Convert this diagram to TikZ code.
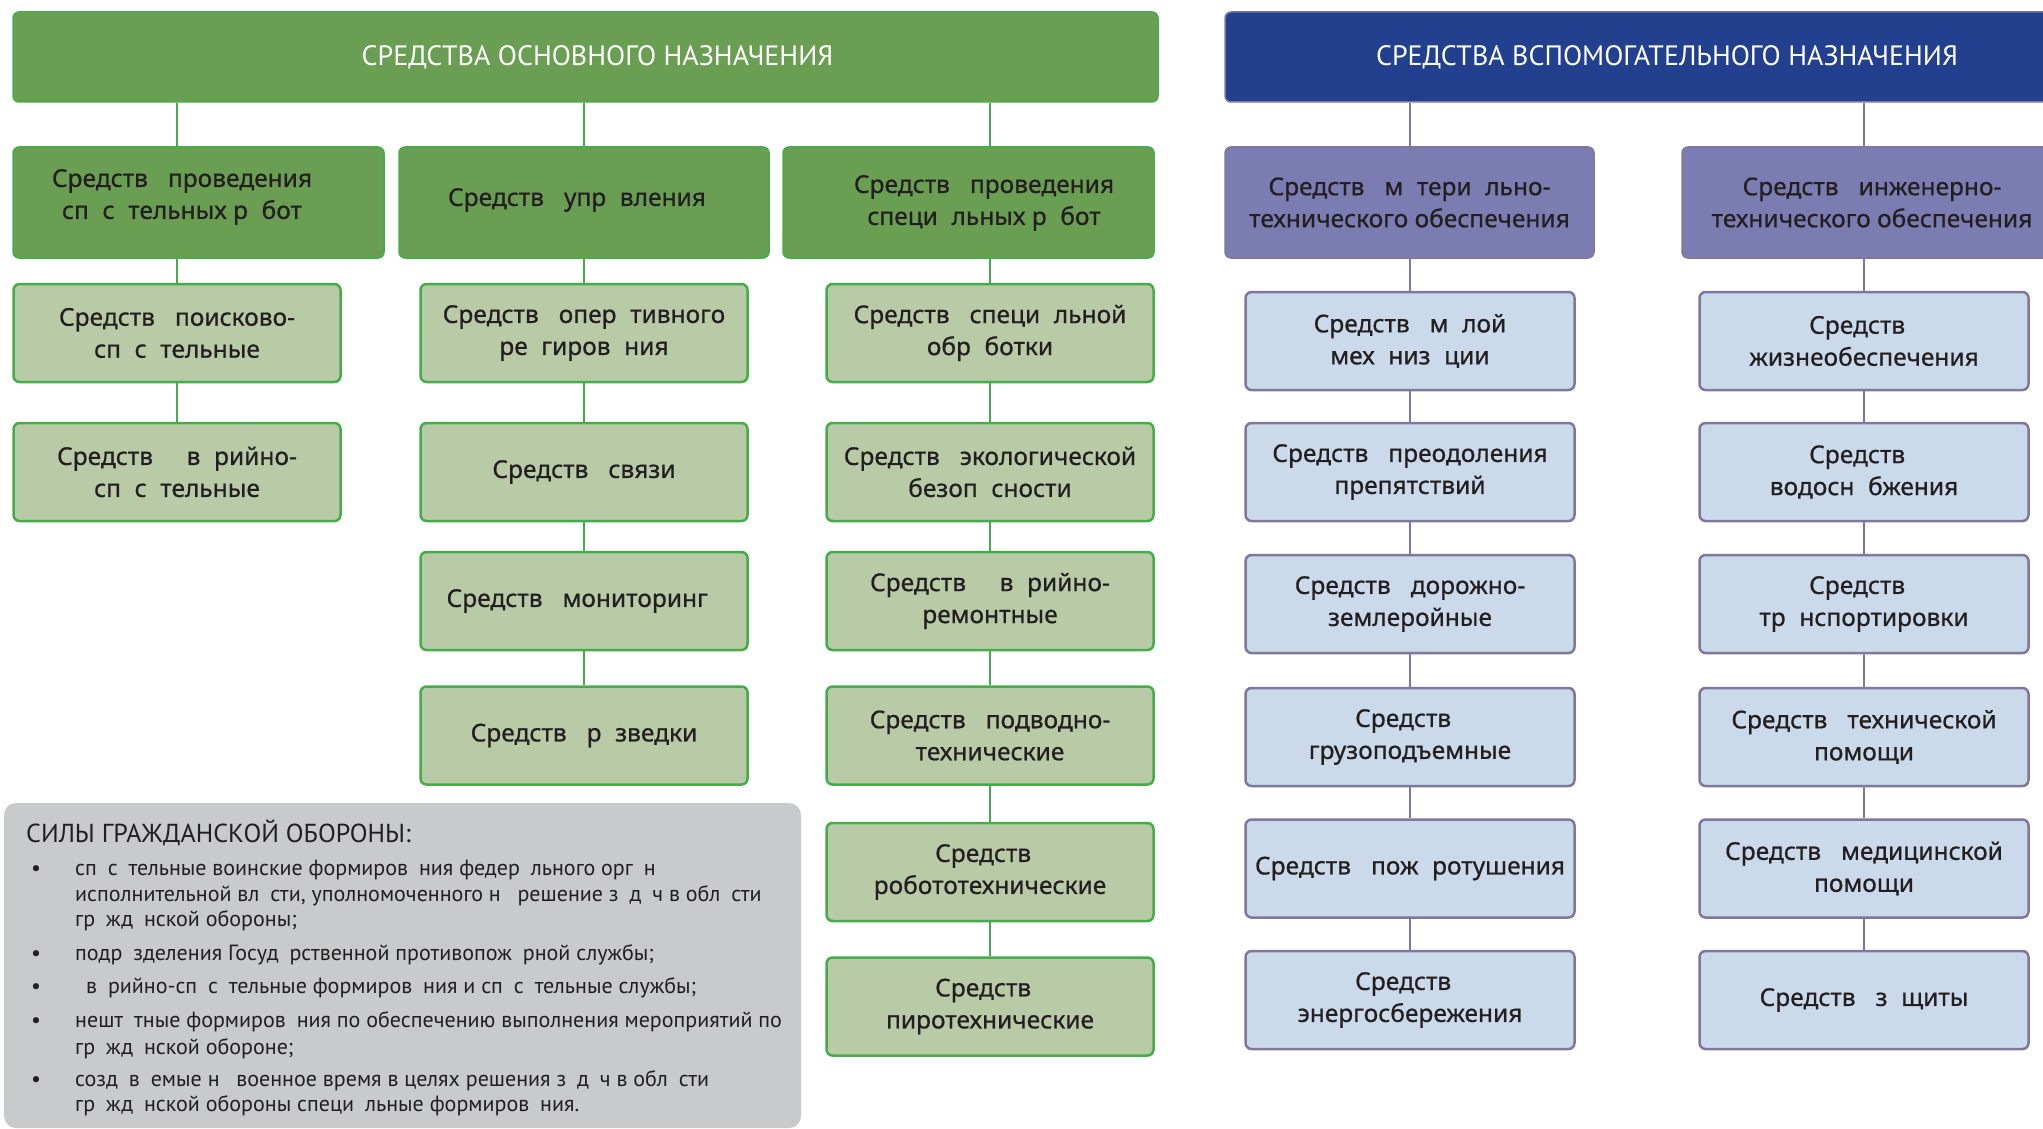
\documentclass[tikz,border=0pt]{standalone}
\usepackage{fontspec}
\setmainfont{Noto Sans}
\newfontfamily\boxfont[FakeBold=0.7]{Noto Sans}
\newfontfamily\ptsans{PT Sans}
\newcommand\gapa{\phantom{а}}
\definecolor{hdrgreen}{HTML}{6A9F53}
\definecolor{lightgreen}{HTML}{B9CAA7}
\definecolor{greenline}{HTML}{44AD4A}
\definecolor{hdrblue}{HTML}{23408E}
\definecolor{purplebox}{HTML}{7B7CB1}
\definecolor{lightblue}{HTML}{CADAEA}
\definecolor{purpline}{HTML}{7F779C}
\definecolor{grayfill}{HTML}{C9CACC}
\definecolor{txt}{HTML}{231F20}
\begin{document}
\begin{tikzpicture}[x=1pt,y=-1pt,
  base/.style={rounded corners=6pt, align=center, inner sep=0pt, text=txt,
    font=\boxfont\fontsize{24.5}{32}\selectfont},
  hdrG/.style={base, fill=hdrgreen, draw=greenline, line width=1.5pt, text=white,
    font=\ptsans\fontsize{28}{30}\selectfont, minimum height=90},
  lvG/.style={base, fill=hdrgreen, draw=greenline, line width=1.5pt, minimum height=111},
  lvtext/.style={align=center, inner sep=0pt, text=txt, font=\boxfont\fontsize{24.5}{32}\selectfont},
  colG/.style={base, fill=lightgreen, draw=greenline, line width=2.5pt, minimum width=327, minimum height=98},
  hdrB/.style={base, fill=hdrblue, draw=purpline, line width=1.5pt, text=white,
    font=\ptsans\fontsize{28}{30}\selectfont, minimum height=90},
  lvP/.style={base, fill=purplebox, draw=purpline, line width=1.5pt, minimum height=111},
  colB/.style={base, fill=lightblue, draw=purpline, line width=2.5pt, minimum width=329, minimum height=98},
  gline/.style={draw=greenline, line width=2.5pt},
  pline/.style={draw=purpline, line width=2.5pt},
  graytxt/.style={anchor=base west, inner sep=0pt, text=txt, font=\ptsans\fontsize{22}{26}\selectfont},
  graytitle/.style={anchor=base west, inner sep=0pt, text=txt, font=\ptsans\fontsize{26}{30}\selectfont},
]
\useasboundingbox (0,0) rectangle (2043,1129);
\clip (0,0) rectangle (2043,1129);

% ---------- green part ----------
\node[hdrG, minimum width=1145] (hg) at (585.5,57) {\hspace*{24pt}СРЕДСТВА ОСНОВНОГО НАЗНАЧЕНИЯ};
\node[lvG, minimum width=371] (g1) at (198.5,202.5) {};
\node[lvG, minimum width=370] (g2) at (584,202.5) {};
\node[lvG, minimum width=371] (g3) at (968.5,202.5) {};

\node[colG] (c1a) at (177,333) {Средств\gapa{} поисково-\\сп\gapa{}с\gapa{}тельные};
\node[colG] (c1b) at (177,472) {Средств\gapa{} \gapa{}в\gapa{}рийно-\\сп\gapa{}с\gapa{}тельные};

\node[colG] (c2a) at (584,333) {Средств\gapa{} опер\gapa{}тивного\\ре\gapa{}гиров\gapa{}ния};
\node[colG] (c2b) at (584,472) {Средств\gapa{} связи};
\node[colG] (c2c) at (584,601) {Средств\gapa{} мониторинг\gapa};
\node[colG] (c2d) at (584,735.5) {Средств\gapa{} р\gapa{}зведки};

\node[colG] (c3a) at (990,333) {Средств\gapa{} специ\gapa{}льной\\обр\gapa{}ботки};
\node[colG] (c3b) at (990,472) {Средств\gapa{} экологической\\безоп\gapa{}сности};
\node[colG] (c3c) at (990,601) {Средств\gapa{} \gapa{}в\gapa{}рийно-\\ремонтные};
\node[colG] (c3d) at (990,735.5) {Средств\gapa{} подводно-\\технические};
\node[colG] (c3e) at (990,872) {Средств\gapa\\робототехнические};
\node[colG] (c3f) at (990,1006.5) {Средств\gapa\\пиротехнические};

\node[lvtext] (g1t) at (182,197) {Средств\gapa{} проведения\\сп\gapa{}с\gapa{}тельных р\gapa{}бот};
\node[lvtext] (g2t) at (577,200) {Средств\gapa{} упр\gapa{}вления};
\node[lvtext] (g3t) at (984,203) {Средств\gapa{} проведения\\специ\gapa{}льных р\gapa{}бот};

\draw[gline] (hg.south -| c1a.center) -- (g1.north -| c1a.center);
\draw[gline] (hg.south -| c2a.center) -- (g2.north -| c2a.center);
\draw[gline] (hg.south -| c3a.center) -- (g3.north -| c3a.center);
\draw[gline] (g1.south -| c1a.center) -- (c1a.north);
\draw[gline] (g2.south -| c2a.center) -- (c2a.north);
\draw[gline] (g3.south -| c3a.center) -- (c3a.north);
\draw[gline] (c1a.south) -- (c1b.north);
\draw[gline] (c2a.south) -- (c2b.north);
\draw[gline] (c2b.south) -- (c2c.north);
\draw[gline] (c2c.south) -- (c2d.north);
\draw[gline] (c3a.south) -- (c3b.north);
\draw[gline] (c3b.south) -- (c3c.north);
\draw[gline] (c3c.south) -- (c3d.north);
\draw[gline] (c3d.south) -- (c3e.north);
\draw[gline] (c3e.south) -- (c3f.north);

% ---------- blue part ----------
\node[hdrB, minimum width=884] (hb) at (1667,57) {СРЕДСТВА ВСПОМОГАТЕЛЬНОГО НАЗНАЧЕНИЯ};
\node[lvP, minimum width=369] (p1) at (1409.5,202.5) {Средств\gapa{} м\gapa{}тери\gapa{}льно-\\технического обеспечения};
\node[lvP, minimum width=380] (p2) at (1872,202.5) {Средств\gapa{} инженерно-\\технического обеспечения};

\node[colB] (b1a) at (1410,341) {Средств\gapa{} м\gapa{}лой\\мех\gapa{}низ\gapa{}ции};
\node[colB] (b1b) at (1410,472) {Средств\gapa{} преодоления\\препятствий};
\node[colB] (b1c) at (1410,604) {Средств\gapa{} дорожно-\\землеройные};
\node[colB] (b1d) at (1410,737) {Средств\gapa\\грузоподъемные};
\node[colB] (b1e) at (1410,868.5) {Средств\gapa{} пож\gapa{}ротушения};
\node[colB] (b1f) at (1410,1000) {Средств\gapa\\энергосбережения};

\node[colB] (b2a) at (1864,341) {Средств\gapa\\жизнеобеспечения};
\node[colB] (b2b) at (1864,472) {Средств\gapa\\водосн\gapa{}бжения};
\node[colB] (b2c) at (1864,604) {Средств\gapa\\тр\gapa{}нспортировки};
\node[colB] (b2d) at (1864,737) {Средств\gapa{} технической\\помощи};
\node[colB] (b2e) at (1864,868.5) {Средств\gapa{} медицинской\\помощи};
\node[colB] (b2f) at (1864,1000) {Средств\gapa{} з\gapa{}щиты};

\draw[pline] (hb.south -| b1a.center) -- (p1.north -| b1a.center);
\draw[pline] (hb.south -| b2a.center) -- (p2.north -| b2a.center);
\draw[pline] (p1.south -| b1a.center) -- (b1a.north);
\draw[pline] (p2.south -| b2a.center) -- (b2a.north);
\draw[pline] (b1a.south) -- (b1b.north);
\draw[pline] (b1b.south) -- (b1c.north);
\draw[pline] (b1c.south) -- (b1d.north);
\draw[pline] (b1d.south) -- (b1e.north);
\draw[pline] (b1e.south) -- (b1f.north);
\draw[pline] (b2a.south) -- (b2b.north);
\draw[pline] (b2b.south) -- (b2c.north);
\draw[pline] (b2c.south) -- (b2d.north);
\draw[pline] (b2d.south) -- (b2e.north);
\draw[pline] (b2e.south) -- (b2f.north);

% ---------- gray box ----------
\node[fill=grayfill, rounded corners=12pt, minimum width=797, minimum height=325, inner sep=0pt] (gbox) at (402.5,965.5) {};
\node[graytitle] (gt) at (26,842) {СИЛЫ ГРАЖДАНСКОЙ ОБОРОНЫ:};
\node[graytxt] (bu1) at (31,875) {•};
\node[graytxt] (l1) at (75,875) {сп\gapa{}с\gapa{}тельные воинские формиров\gapa{}ния федер\gapa{}льного орг\gapa{}н\gapa};
\node[graytxt] (l2) at (75,901) {исполнительной вл\gapa{}сти, уполномоченного н\gapa{} решение з\gapa{}д\gapa{}ч в обл\gapa{}сти};
\node[graytxt] (l3) at (75,926) {гр\gapa{}жд\gapa{}нской обороны;};
\node[graytxt] (bu2) at (31,960) {•};
\node[graytxt] (l4) at (75,960) {подр\gapa{}зделения Госуд\gapa{}рственной противопож\gapa{}рной службы;};
\node[graytxt] (bu3) at (31,993) {•};
\node[graytxt] (l5) at (75,993) {\gapa{}в\gapa{}рийно-сп\gapa{}с\gapa{}тельные формиров\gapa{}ния и сп\gapa{}с\gapa{}тельные службы;};
\node[graytxt] (bu4) at (31,1027) {•};
\node[graytxt] (l6) at (75,1027) {нешт\gapa{}тные формиров\gapa{}ния по обеспечению выполнения мероприятий по};
\node[graytxt] (l7) at (75,1054) {гр\gapa{}жд\gapa{}нской обороне;};
\node[graytxt] (bu5) at (31,1086) {•};
\node[graytxt] (l8) at (75,1086) {созд\gapa{}в\gapa{}емые н\gapa{} военное время в целях решения з\gapa{}д\gapa{}ч в обл\gapa{}сти};
\node[graytxt] (l9) at (75,1111) {гр\gapa{}жд\gapa{}нской обороны специ\gapa{}льные формиров\gapa{}ния.};
\end{tikzpicture}
\end{document}
